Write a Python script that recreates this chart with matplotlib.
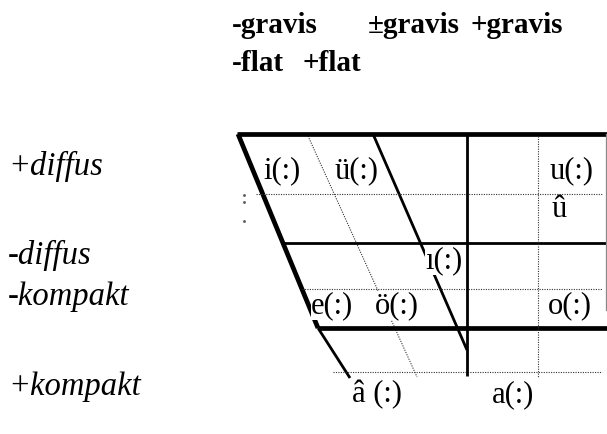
import matplotlib
matplotlib.use("Agg")
from matplotlib import pyplot as plt

# header labels (bold) and their anchor (left, baseline) in pixels
HEAD_TEXT = ["-gravis", "±gravis", "+gravis", "-flat", "+flat"]
HEAD_X = [232, 368, 471, 232, 302]
HEAD_Y = [33, 33, 33, 71, 71]

# row labels (italic)
ROW_TEXT = ["+diffus", "-diffus", "-kompakt", "+kompakt"]
ROW_X = [8, 8, 8, 8]
ROW_Y = [175, 264, 305, 395]

# vowels
VOWEL_TEXT = ["i(:)", "ü(:)", "u(:)", "û", "ı(:)", "e(:)", "ö(:)", "o(:)", "â (:)", "a(:)"]
VOWEL_X = [263, 335, 550, 552, 425, 311, 375, 548, 352, 492]
VOWEL_Y = [178, 178, 178, 217, 268, 313, 313, 313, 402, 402]

# horizontal rules: y, x start, x end, kind
H_Y = [134, 194, 243, 289, 328, 372]
H_X0 = [237, 256, 281, 302, 318, 333]
H_X1 = [607, 602, 607, 602, 607, 602]
H_KIND = ["thick", "dot", "solid", "dot", "thick", "dot"]

# vertical rules: x, y start, y end, kind
V_X = [467, 538, 606]
V_Y0 = [134, 136, 134]
V_Y1 = [376, 378, 310]
V_KIND = ["solid", "dot", "gray"]

# slanted rules: (x0, y0) -> (x1, y1), kind
D_X0 = [238, 318, 373, 308]
D_Y0 = [134, 328, 134, 136]
D_X1 = [318, 350, 467, 417]
D_Y1 = [328, 378, 350, 377]
D_KIND = ["thick", "solid", "solid", "dot"]

# stray dots near the left edge of the grid
DOT_X = [244, 244, 244]
DOT_Y = [195, 202, 221]

STYLE = {
    "thick": dict(color="black", lw=3.4, solid_capstyle="butt"),
    "solid": dict(color="black", lw=2.0, solid_capstyle="butt"),
    "dot": dict(color="#333333", lw=0.8, linestyle=(0, (1, 1.2))),
    "gray": dict(color="#888888", lw=0.9),
}

W, H = 607, 434
fig = plt.figure(figsize=(W / 100, H / 100), dpi=100)
ax = fig.add_axes([0, 0, 1, 1])
ax.set_xlim(0, W)
ax.set_ylim(H, 0)
ax.axis("off")

for x0, y0, x1, y1, kind in zip(D_X0, D_Y0, D_X1, D_Y1, D_KIND):
    ax.plot([x0, x1], [y0, y1], zorder=1, **STYLE[kind])

for y, x0, x1, kind in zip(H_Y, H_X0, H_X1, H_KIND):
    ax.plot([x0, x1], [y, y], zorder=3, **STYLE[kind])

for x, y0, y1, kind in zip(V_X, V_Y0, V_Y1, V_KIND):
    ax.plot([x, x], [y0, y1], zorder=3, **STYLE[kind])

ax.plot(DOT_X, DOT_Y, "s", color="#555555", ms=0.9, zorder=3)

serif = "Liberation Serif"

for t, x, y in zip(HEAD_TEXT, HEAD_X, HEAD_Y):
    ax.text(x, y, t, family=serif, fontsize=21, fontweight="bold",
            ha="left", va="baseline")

for t, x, y in zip(ROW_TEXT, ROW_X, ROW_Y):
    ax.text(x, y, t, family=serif, fontsize=23.5, style="italic",
            ha="left", va="baseline")

for t, x, y in zip(VOWEL_TEXT, VOWEL_X, VOWEL_Y):
    ax.text(x, y, t, family=serif, fontsize=22, ha="left", va="baseline",
            zorder=2, bbox=dict(fc="white", ec="none", pad=0))

fig.savefig("out.png", dpi=100)
